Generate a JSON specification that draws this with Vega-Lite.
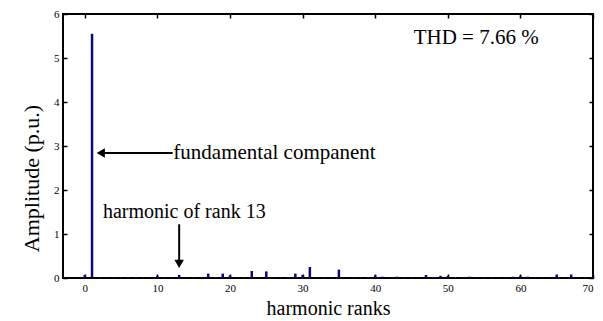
{
  "$schema": "https://vega.github.io/schema/vega-lite/v6.json",
  "autosize": "none",
  "padding": {"left": 63, "top": 14, "right": 10, "bottom": 43},
  "width": 530,
  "height": 264,
  "background": "white",
  "config": {
    "view": {"stroke": "black", "strokeWidth": 2},
    "font": "Liberation Serif",
    "text": {"font": "Liberation Serif"}
  },
  "datasets": {
    "bars": [
      {"rank": 0, "amp": 0.07}, {"rank": 1, "amp": 5.55}, {"rank": 2, "amp": 0.02}, {"rank": 3, "amp": 0.02},
      {"rank": 4, "amp": 0.02}, {"rank": 5, "amp": 0.02}, {"rank": 6, "amp": 0.02}, {"rank": 7, "amp": 0.02},
      {"rank": 8, "amp": 0.02}, {"rank": 9, "amp": 0.02}, {"rank": 10, "amp": 0.05}, {"rank": 11, "amp": 0.02},
      {"rank": 12, "amp": 0.02}, {"rank": 13, "amp": 0.07}, {"rank": 14, "amp": 0.02}, {"rank": 15, "amp": 0.02},
      {"rank": 16, "amp": 0.02}, {"rank": 17, "amp": 0.1}, {"rank": 18, "amp": 0.02}, {"rank": 19, "amp": 0.1},
      {"rank": 20, "amp": 0.06}, {"rank": 21, "amp": 0.02}, {"rank": 22, "amp": 0.02}, {"rank": 23, "amp": 0.16},
      {"rank": 24, "amp": 0.02}, {"rank": 25, "amp": 0.15}, {"rank": 26, "amp": 0.02}, {"rank": 27, "amp": 0.02},
      {"rank": 28, "amp": 0.02}, {"rank": 29, "amp": 0.1}, {"rank": 30, "amp": 0.07}, {"rank": 31, "amp": 0.25},
      {"rank": 32, "amp": 0.02}, {"rank": 33, "amp": 0.02}, {"rank": 34, "amp": 0.02}, {"rank": 35, "amp": 0.19},
      {"rank": 36, "amp": 0.02}, {"rank": 37, "amp": 0.02}, {"rank": 38, "amp": 0.02}, {"rank": 39, "amp": 0.02},
      {"rank": 40, "amp": 0.06}, {"rank": 41, "amp": 0.03}, {"rank": 42, "amp": 0.02}, {"rank": 43, "amp": 0.03},
      {"rank": 44, "amp": 0.02}, {"rank": 45, "amp": 0.02}, {"rank": 46, "amp": 0.02}, {"rank": 47, "amp": 0.07},
      {"rank": 48, "amp": 0.02}, {"rank": 49, "amp": 0.05}, {"rank": 50, "amp": 0.05}, {"rank": 51, "amp": 0.02},
      {"rank": 52, "amp": 0.02}, {"rank": 53, "amp": 0.03}, {"rank": 54, "amp": 0.02}, {"rank": 55, "amp": 0.02},
      {"rank": 56, "amp": 0.02}, {"rank": 57, "amp": 0.02}, {"rank": 58, "amp": 0.02}, {"rank": 59, "amp": 0.03},
      {"rank": 60, "amp": 0.05}, {"rank": 61, "amp": 0.03}, {"rank": 62, "amp": 0.02}, {"rank": 63, "amp": 0.02},
      {"rank": 64, "amp": 0.02}, {"rank": 65, "amp": 0.08}, {"rank": 66, "amp": 0.02}, {"rank": 67, "amp": 0.08},
      {"rank": 68, "amp": 0.02}, {"rank": 69, "amp": 0.02}, {"rank": 70, "amp": 0.02}
    ],
    "labels": [
      {"x": 45.3, "y": 5.45, "text": "THD = 7.66 %", "size": 21},
      {"x": 12.2, "y": 2.84, "text": "fundamental companent", "size": 21},
      {"x": 2.5, "y": 1.49, "text": "harmonic of rank 13", "size": 20}
    ],
    "arrows": [
      {"x": 12.1, "x2": 2.2, "y": 2.84, "y2": 2.84},
      {"x": 13, "x2": 13, "y": 1.22, "y2": 0.35}
    ],
    "heads": [
      {"x": 2.2, "y": 2.84, "shape": "triangle-left"},
      {"x": 13, "y": 0.32, "shape": "triangle-down"}
    ]
  },
  "resolve": {"axis": {"x": "independent", "y": "independent"}},
  "layer": [
    {
      "data": {"name": "bars"},
      "mark": {"type": "rule", "color": "#0b0b78", "strokeWidth": 2.5},
      "encoding": {
        "x": {"field": "rank", "type": "quantitative",
          "scale": {"domain": [-3, 70], "nice": false, "zero": false},
          "axis": {"title": "harmonic ranks", "titleFontSize": 20, "titleFontWeight": "normal", "titleColor": "black",
            "titlePadding": 5, "values": [0, 10, 20, 30, 40, 50, 60, 70], "labelFontSize": 11, "labelColor": "black",
            "tickSize": -4, "tickColor": "black", "tickWidth": 1.5, "labelPadding": 8, "domain": false, "grid": false}},
        "y": {"field": "amp", "type": "quantitative",
          "scale": {"domain": [0, 6], "nice": false},
          "axis": {"title": "Amplitude (p.u.)", "titleFontSize": 22, "titleFontWeight": "normal", "titleColor": "black",
            "titlePadding": 10, "titleY": 164, "values": [0, 1, 2, 3, 4, 5, 6], "labelFontSize": 11, "labelColor": "black",
            "tickSize": -4, "tickColor": "black", "tickWidth": 1.5, "labelPadding": 8, "domain": false, "grid": false}},
        "y2": {"datum": 0}
      }
    },
    {
      "data": {"name": "bars"},
      "mark": {"type": "point", "opacity": 0},
      "encoding": {
        "x": {"field": "rank", "type": "quantitative",
          "axis": {"orient": "top", "labels": false, "title": null, "values": [0, 10, 20, 30, 40, 50, 60, 70],
            "tickSize": -4, "tickColor": "black", "tickWidth": 1.5, "domain": false, "grid": false}},
        "y": {"field": "amp", "type": "quantitative",
          "axis": {"orient": "right", "labels": false, "title": null, "values": [0, 1, 2, 3, 4, 5, 6],
            "tickSize": -4, "tickColor": "black", "tickWidth": 1.5, "domain": false, "grid": false}}
      }
    },
    {
      "data": {"name": "arrows"},
      "mark": {"type": "rule", "color": "black", "strokeWidth": 2},
      "encoding": {
        "x": {"field": "x", "type": "quantitative", "axis": null},
        "x2": {"field": "x2"},
        "y": {"field": "y", "type": "quantitative", "axis": null},
        "y2": {"field": "y2"}
      }
    },
    {
      "data": {"name": "heads"},
      "mark": {"type": "point", "filled": true, "color": "black", "opacity": 1, "size": 90},
      "encoding": {
        "x": {"field": "x", "type": "quantitative", "axis": null},
        "y": {"field": "y", "type": "quantitative", "axis": null},
        "shape": {"field": "shape", "type": "nominal", "scale": null, "legend": null}
      }
    },
    {
      "data": {"name": "labels"},
      "mark": {"type": "text", "align": "left", "baseline": "middle", "color": "black", "font": "Liberation Serif"},
      "encoding": {
        "x": {"field": "x", "type": "quantitative", "axis": null},
        "y": {"field": "y", "type": "quantitative", "axis": null},
        "text": {"field": "text"},
        "size": {"field": "size", "type": "quantitative", "scale": null, "legend": null}
      }
    }
  ]
}
